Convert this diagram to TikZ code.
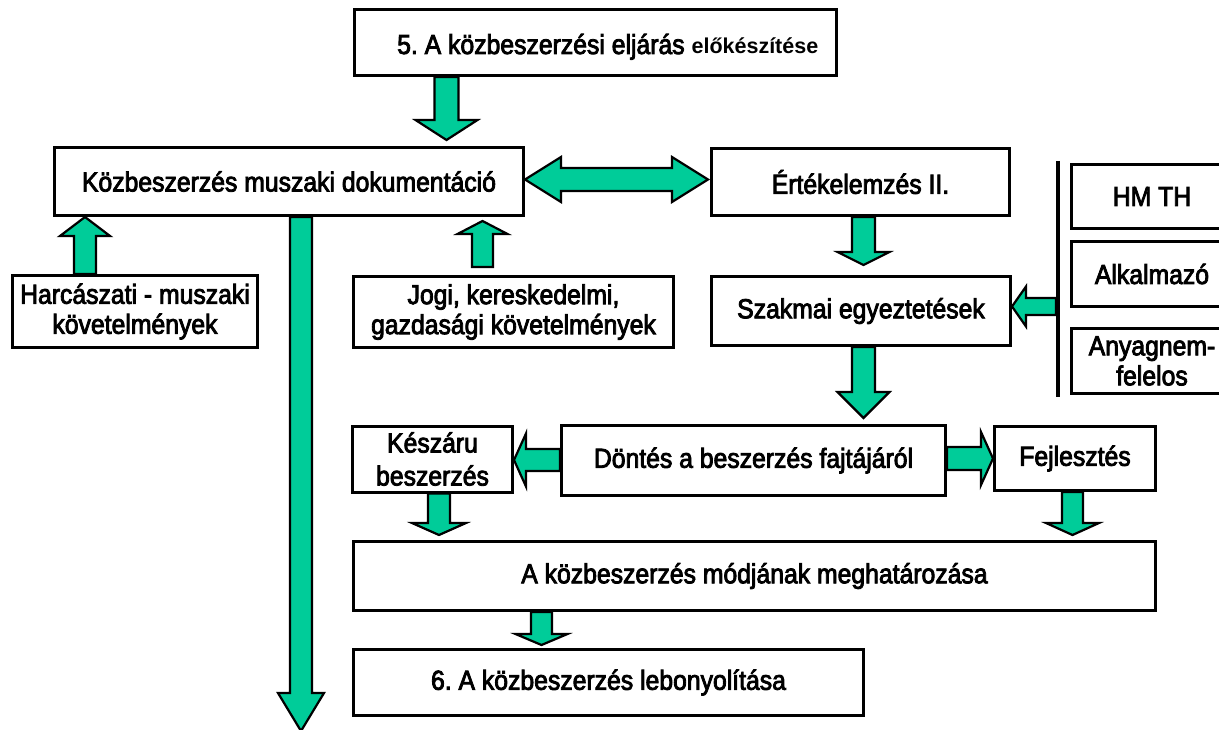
\documentclass[tikz,border=0pt]{standalone}
\usepackage{fontspec}
\setmainfont{Liberation Sans}[FakeStretch=0.9, FakeBold=3]
\newfontfamily\widefont{Liberation Sans}
\usetikzlibrary{calc}
\definecolor{flowgreen}{RGB}{0,204,153}
\newcommand\labelfont{\fontsize{27.5}{30}\selectfont\frenchspacing}
\tikzset{
  box/.style={draw=black, line width=3pt, fill=white, inner sep=0pt,
    align=center, font=\labelfont},
  barrow/.style={fill=flowgreen, draw=black, line width=2.2pt, line join=miter},
}
% vertical block arrow: tail, tip, x of axis, half shaft, half head, head length
\newcommand{\vblock}[6]{%
  \filldraw[barrow] let \p1=(#1), \p2=(#2), \n1={ifthenelse(\y2>\y1,1,-1)} in
    ({(#3-#4)*1pt},\y1) -- ({(#3-#4)*1pt},{\y2-(\n1)*#6pt})
    -- ({(#3-#5)*1pt},{\y2-(\n1)*#6pt}) -- ({#3*1pt},\y2)
    -- ({(#3+#5)*1pt},{\y2-(\n1)*#6pt}) -- ({(#3+#4)*1pt},{\y2-(\n1)*#6pt})
    -- ({(#3+#4)*1pt},\y1) -- cycle;}
% horizontal block arrow: tail, tip, y of axis, half shaft, half head, head length
\newcommand{\hblock}[6]{%
  \filldraw[barrow] let \p1=(#1), \p2=(#2), \n1={ifthenelse(\x2>\x1,1,-1)} in
    (\x1,{-(#3-#4)*1pt}) -- ({\x2-(\n1)*#6pt},{-(#3-#4)*1pt})
    -- ({\x2-(\n1)*#6pt},{-(#3-#5)*1pt}) -- (\x2,{-#3*1pt})
    -- ({\x2-(\n1)*#6pt},{-(#3+#5)*1pt}) -- ({\x2-(\n1)*#6pt},{-(#3+#4)*1pt})
    -- (\x1,{-(#3+#4)*1pt}) -- cycle;}
% double-headed horizontal block arrow: left tip, right tip, y, half shaft, half head, head length
\newcommand{\dblock}[6]{%
  \filldraw[barrow] let \p1=(#1), \p2=(#2) in
    (\x1,{-#3*1pt}) -- ({\x1+#6pt},{-(#3-#5)*1pt}) -- ({\x1+#6pt},{-(#3-#4)*1pt})
    -- ({\x2-#6pt},{-(#3-#4)*1pt}) -- ({\x2-#6pt},{-(#3-#5)*1pt}) -- (\x2,{-#3*1pt})
    -- ({\x2-#6pt},{-(#3+#5)*1pt}) -- ({\x2-#6pt},{-(#3+#4)*1pt})
    -- ({\x1+#6pt},{-(#3+#4)*1pt}) -- ({\x1+#6pt},{-(#3+#5)*1pt}) -- cycle;}

\begin{document}
\begin{tikzpicture}[x=1pt,y=-1pt]
\useasboundingbox (0,0) rectangle (1219,730);
\clip (0,0) rectangle (1219,730);
\fill[white] (0,0) rectangle (1219,730);

% boxes
\node[box, minimum width=482pt, minimum height=66pt] (top) at (595.5,42.5) {};
\node[font=\labelfont, anchor=base west, inner sep=0pt] (toptext) at (397,54)
  {5. A közbeszerzési eljárás {\widefont\bfseries\fontsize{21.5}{24}\selectfont előkészítése}};
\node[box, minimum width=469pt, minimum height=68pt] (doc) at (289,181.5) {Közbeszerzés muszaki dokumentáció};
\node[box, minimum width=298pt, minimum height=67pt] (ert) at (860.5,182) {Értékelemzés II.};
\node[box, minimum width=245pt, minimum height=72pt] (harc) at (135,311.5) {Harcászati - muszaki\\követelmények};
\node[box, minimum width=320pt, minimum height=71pt] (jogi) at (513.5,312) {Jogi, kereskedelmi,\\gazdasági követelmények};
\node[box, minimum width=299pt, minimum height=69pt] (szak) at (861,311) {Szakmai egyeztetések};
\node[box, minimum width=161pt, minimum height=64pt] (hm) at (1152,196.5) {HM TH};
\node[box, minimum width=161pt, minimum height=65pt] (alk) at (1152,274) {Alkalmazó};
\node[box, minimum width=161pt, minimum height=65pt] (anyag) at (1152,361) {Anyagnem-\\felelos};
\node[box, minimum width=160pt, minimum height=66pt, font=\fontsize{27.5}{33}\selectfont] (kesz) at (432.5,459) {Készáru\\beszerzés};
\node[box, minimum width=384pt, minimum height=70pt] (dont) at (753.5,460.5) {Döntés a beszerzés fajtájáról};
\node[box, minimum width=161pt, minimum height=64pt] (fejl) at (1075,458.5) {Fejlesztés};
\node[box, minimum width=802pt, minimum height=69pt] (mod) at (754.5,576) {A közbeszerzés módjának meghatározása};
\node[box, minimum width=510pt, minimum height=66pt] (leb) at (608.5,682.5) {6. A közbeszerzés lebonyolítása};

% separator bar beside the three units
\coordinate (bartop) at (1058,161);
\coordinate (barbot) at (1058,397);
\coordinate (barmid) at (1056,306.5);
\draw[line width=4pt] (bartop) -- (barbot);
\coordinate (docend) at (301,731);

% block arrows
\vblock{top.south}{[yshift=6pt]doc.north}{446.5}{12}{31}{20}
\vblock{harc.north}{doc.south}{85}{11}{25}{19}
\vblock{[yshift=8pt]jogi.north}{[yshift=-4pt]doc.south}{482.5}{10.5}{25}{13}
\dblock{doc.east}{[xshift=-2pt]ert.west}{179.5}{11.5}{22.5}{36}
\vblock{ert.south}{[yshift=10pt]szak.north}{863.5}{11.5}{26}{13}
\vblock{szak.south}{[yshift=6pt]dont.north}{863.5}{11.5}{26}{26}
\hblock{dont.west}{kesz.east}{460}{11}{26.5}{12}
\hblock{dont.east}{fejl.west}{458.5}{11.5}{26.5}{12}
\vblock{kesz.south}{[yshift=5pt]mod.north}{439}{11}{27}{12}
\vblock{fejl.south}{[yshift=5pt]mod.north}{1072.5}{10.5}{26.5}{12}
\vblock{mod.south}{[yshift=3pt]leb.north}{541.5}{10.5}{26}{11}
\vblock{doc.south}{docend}{301}{11}{23}{38}
\hblock{barmid}{szak.east}{306.5}{8.5}{20}{14}
\end{tikzpicture}
\end{document}
